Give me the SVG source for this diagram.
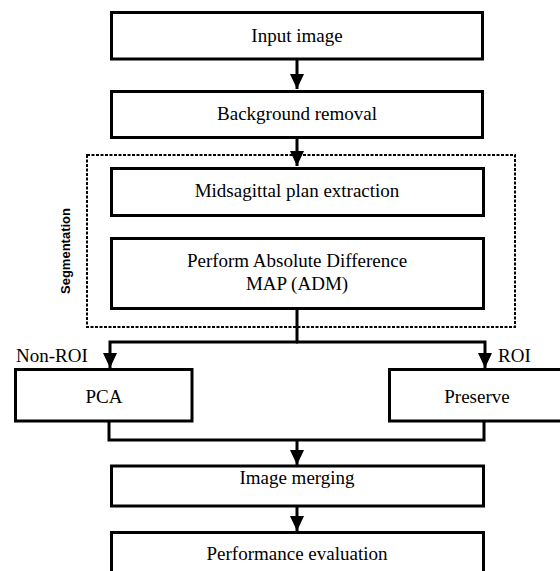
<svg xmlns="http://www.w3.org/2000/svg" width="560" height="571" viewBox="0 0 560 571">
  <defs>
    <marker id="arr" markerUnits="userSpaceOnUse" markerWidth="16" markerHeight="16" viewBox="0 0 16 16" refX="15" refY="8" orient="auto">
      <path d="M0,1 L15,8 L0,15 z" fill="#000"/>
    </marker>
    <style>
      .box { fill: #fff; stroke: #000; stroke-width: 3; }
      .lbl { font-size: 19px; fill: #000; text-anchor: middle; }
      .side { font-size: 19px; fill: #000; }
      .conn { fill: none; stroke: #000; stroke-width: 3; }
      .group { fill: none; stroke: #000; stroke-width: 2; stroke-dasharray: 3 1.5; }
      .seg { font-size: 13px; font-weight: bold; fill: #000; text-anchor: middle; }
    </style>
  </defs>
  <rect width="560" height="571" fill="#fff"/>

  <g id="segmentation-group">
    <rect class="group" x="87" y="155" width="428" height="172"/>
    <text class="seg" font-family="Liberation Sans, Arial, sans-serif" transform="translate(70,251) rotate(-90)">Segmentation</text>
  </g>

  <g font-family="Liberation Serif, DejaVu Serif, serif">
  <g id="input-image">
    <rect class="box" x="111.5" y="12.5" width="371" height="46.5"/>
    <text class="lbl" x="297" y="42">Input image</text>
  </g>
  <g id="background-removal">
    <rect class="box" x="111.5" y="91.5" width="371" height="46"/>
    <text class="lbl" x="297" y="120">Background removal</text>
  </g>
  <g id="midsagittal">
    <rect class="box" x="111.5" y="168.5" width="372" height="47"/>
    <text class="lbl" x="297" y="197">Midsagittal plan extraction</text>
  </g>
  <g id="adm">
    <rect class="box" x="111.5" y="238.5" width="372" height="70"/>
    <text class="lbl" x="297" y="267">Perform Absolute Difference</text>
    <text class="lbl" x="297" y="290">MAP (ADM)</text>
  </g>
  <g id="pca">
    <rect class="box" x="15.5" y="369.5" width="176.5" height="51.5"/>
    <text class="lbl" x="104" y="403">PCA</text>
  </g>
  <g id="preserve">
    <rect class="box" x="389.5" y="369.5" width="178" height="51.5"/>
    <text class="lbl" x="477" y="403">Preserve</text>
  </g>
  <g id="image-merging">
    <rect class="box" x="111.5" y="466" width="372" height="40"/>
    <text class="lbl" x="297" y="484">Image merging</text>
  </g>
  <g id="performance-evaluation">
    <rect class="box" x="111.5" y="532.5" width="372" height="45"/>
    <text class="lbl" x="297" y="560">Performance evaluation</text>
  </g>

  <g id="connectors">
    <path class="conn" d="M297,59 V89" marker-end="url(#arr)"/>
    <path class="conn" d="M297,138 V166" marker-end="url(#arr)"/>
    <path class="conn" d="M297,309 V342"/>
    <path class="conn" d="M298,342 H110 V368" marker-end="url(#arr)"/>
    <path class="conn" d="M296,342 H485 V368" marker-end="url(#arr)"/>
    <path class="conn" d="M109,421 V440 H484 V421"/>
    <path class="conn" d="M297,440 V465" marker-end="url(#arr)"/>
    <path class="conn" d="M297,506 V531" marker-end="url(#arr)"/>
    <text class="side" x="16" y="362">Non-ROI</text>
    <text class="side" x="498" y="362">ROI</text>
  </g>
  </g>
</svg>
